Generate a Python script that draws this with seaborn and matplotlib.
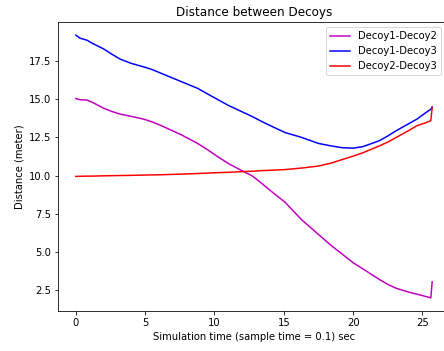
import numpy as np
import pandas as pd
import matplotlib
matplotlib.use("Agg")
import matplotlib.pyplot as plt
import seaborn as sns

# sample times (sec)
t = [0, 0.3, 0.8, 1.2, 2.0, 2.6, 3.2, 4.0, 4.9, 5.5, 6.1, 7.6, 8.8, 9.5, 10.3, 11.0,
     11.9, 12.7, 13.4, 14.2, 15.1, 16.3, 17.5, 18.4, 19.2, 20.0, 20.7, 21.9, 22.5,
     23.1, 24.0, 24.6, 25.2, 25.6, 25.7]

d12 = [15.05, 14.97, 14.95, 14.8, 14.42, 14.2, 14.03, 13.88, 13.7, 13.52, 13.3, 12.68,
       12.1, 11.7, 11.2, 10.8, 10.36, 10.0, 9.5, 8.9, 8.25, 7.1, 6.15, 5.44, 4.87,
       4.3, 3.9, 3.2, 2.88, 2.63, 2.38, 2.24, 2.1, 2.0, 3.05]
d13 = [19.2, 19.0, 18.87, 18.66, 18.3, 17.95, 17.63, 17.35, 17.12, 16.95, 16.72, 16.16,
       15.71, 15.35, 14.95, 14.6, 14.22, 13.88, 13.55, 13.2, 12.82, 12.5, 12.11, 11.95,
       11.83, 11.8, 11.9, 12.29, 12.6, 12.94, 13.4, 13.7, 14.1, 14.35, 14.5]
d23 = [9.95, 9.96, 9.97, 9.97, 9.99, 10.0, 10.01, 10.02, 10.04, 10.05, 10.06, 10.1,
       10.14, 10.17, 10.2, 10.22, 10.26, 10.29, 10.33, 10.36, 10.4, 10.5, 10.63, 10.82,
       11.05, 11.28, 11.5, 11.95, 12.2, 12.5, 12.95, 13.27, 13.45, 13.6, 14.45]

labels = ['Decoy1-Decoy2', 'Decoy1-Decoy3', 'Decoy2-Decoy3']
colors = ['m', 'b', 'r']

fig = plt.figure(figsize=(444 / 72, 351 / 72), dpi=72)
ax = fig.add_axes([58 / 444, 40 / 351, 392 / 444, 289 / 351])

for vals, lab, col in zip([d12, d13, d23], labels, colors):
    sns.lineplot(x=t, y=vals, color=col, label=lab, ax=ax, linewidth=1.5)

ax.set_title('Distance between Decoys')
ax.set_xlabel('Simulation time (sample time = 0.1) sec')
ax.set_ylabel('Distance (meter)')
ax.set_xticks([0, 5, 10, 15, 20, 25])
ax.set_yticks([2.5, 5.0, 7.5, 10.0, 12.5, 15.0, 17.5])
ax.legend(loc='upper right', bbox_to_anchor=(1 - 4 / 392, 1))

fig.savefig('out.png', dpi=72)
